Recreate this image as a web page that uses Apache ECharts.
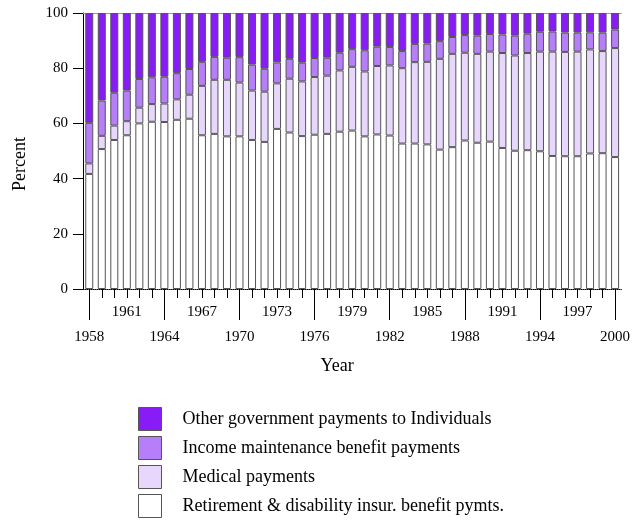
<!DOCTYPE html>
<html>
<head>
<meta charset="utf-8">
<script src="https://cdn.jsdelivr.net/npm/echarts@6/dist/echarts.min.js"></script>
<style>
html,body{margin:0;padding:0;background:#fff;}
#chart{width:633px;height:521px;}
</style>
</head>
<body>
<div id="chart"></div>
<script>
const years = ['1958','1959','1960','1961','1962','1963','1964','1965','1966','1967','1968','1969','1970','1971','1972','1973','1974','1975','1976','1977','1978','1979','1980','1981','1982','1983','1984','1985','1986','1987','1988','1989','1990','1991','1992','1993','1994','1995','1996','1997','1998','1999','2000'];

const retirement = [41.7,50.7,54.0,55.7,60.0,60.6,60.5,61.3,61.7,55.7,56.2,55.3,55.3,54.0,53.3,58.0,56.7,55.4,55.9,56.2,57.0,57.4,55.3,56.0,55.6,52.7,52.7,52.4,50.5,51.4,53.8,53.0,53.4,51.1,50.1,50.3,49.9,48.2,48.1,48.1,49.1,49.2,47.8];
const medical = [3.8,4.8,5.2,5.1,5.7,6.4,6.7,7.4,8.7,17.9,19.6,20.5,19.5,17.9,18.2,16.5,19.5,19.8,20.9,21.1,22.2,23.1,23.5,24.8,25.4,27.3,29.5,29.9,32.9,33.8,31.8,32.2,32.6,34.4,34.5,35.2,36.1,37.8,37.8,37.9,37.7,37.0,39.5];
const income = [14.7,12.8,11.9,11.1,10.4,9.7,9.7,9.5,9.3,8.7,8.3,8.0,9.2,9.4,8.3,7.6,7.2,6.8,6.9,6.5,6.4,6.4,7.7,7.0,6.7,6.2,6.6,6.6,6.4,6.1,6.4,6.6,6.4,6.7,7.2,7.0,7.2,7.3,7.0,6.9,6.2,6.7,6.7];
const other = [39.8,31.7,28.9,28.1,23.9,23.3,23.1,21.8,20.3,17.7,15.9,16.2,16.0,18.7,20.2,17.9,16.6,18.0,16.3,16.2,14.4,13.1,13.5,12.2,12.3,13.8,11.2,11.1,10.2,8.7,8.0,8.2,7.6,7.8,8.2,7.5,6.8,6.7,7.1,7.1,7.0,7.1,6.0];

const yTicks = [0,20,40,60,80,100];
const seriesNames = ['Retirement & disability insur. benefit pymts.','Medical payments','Income maintenance benefit payments','Other government payments to Individuals'];
const seriesColors = ['#ffffff','#e7d7fc','#b77ef9','#881cf7'];

const FONT = 'Liberation Serif';
const chart = echarts.init(document.getElementById('chart'), null, {renderer:'canvas'});

const values = [retirement, medical, income, other];
const series = values.map((v,i)=>({
  name: seriesNames[i],
  type: 'bar',
  stack: 'total',
  xAxisIndex: 0,
  yAxisIndex: 0,
  barWidth: 8,
  data: v,
  itemStyle: {color: seriesColors[i], borderColor: '#555', borderWidth: 1},
  emphasis: {disabled: true},
  animation: false
}));

chart.setOption({
  animation: false,
  backgroundColor: '#fff',
  grid: {left: 83, right: 4, top: 13, bottom: 232, containLabel: false},
  legend: {
    orient: 'vertical',
    left: 138,
    top: 407,
    height: 114,
    padding: 0,
    itemWidth: 23,
    itemHeight: 23,
    itemGap: 5,
    selectedMode: false,
    data: [seriesNames[3], seriesNames[2], seriesNames[1], seriesNames[0]],
    icon: 'rect',
    itemStyle: {borderColor: '#555', borderWidth: 1},
    textStyle: {fontFamily: FONT, fontSize: 18, color: '#000', padding: [0,0,0,16]}
  },
  xAxis: [
    {
      type: 'category', data: years, position: 'bottom', gridIndex: 0,
      axisLine: {show: true, lineStyle: {color: '#000', type: 'dotted', width: 1}},
      axisTick: {show: true, alignWithLabel: true, interval: 0, length: 9, lineStyle: {color: '#000'}},
      axisLabel: {show: true, interval: (i)=> i % 6 === 3, margin: 16, fontFamily: FONT, fontSize: 15, color: '#000'},
      name: 'Year', nameLocation: 'middle', nameGap: 68,
      nameTextStyle: {fontFamily: FONT, fontSize: 18, color: '#000', padding: [0,30,0,0]}
    },
    {
      type: 'category', data: years, position: 'bottom', gridIndex: 0, offset: 0,
      axisLine: {show: false},
      axisTick: {show: true, alignWithLabel: true, interval: (i)=> i % 6 === 0, length: 31, lineStyle: {color: '#000'}},
      axisLabel: {show: true, interval: (i)=> i % 6 === 0, margin: 41, fontFamily: FONT, fontSize: 15, color: '#000'}
    },
    {
      type: 'category', data: years, position: 'top', gridIndex: 0, offset: 0,
      axisLine: {show: true, lineStyle: {color: '#999', width: 1}},
      axisTick: {show: false},
      axisLabel: {show: false}
    }
  ],
  yAxis: {
    type: 'value', min: 0, max: 100, interval: 20,
    axisLine: {show: true, lineStyle: {color: '#000'}},
    axisTick: {show: true, length: 10, lineStyle: {color: '#000'}},
    axisLabel: {margin: 15, fontFamily: FONT, fontSize: 15, color: '#000', customValues: yTicks},
    splitLine: {show: false},
    name: 'Percent', nameLocation: 'middle', nameGap: 54, nameRotate: 90,
    nameTextStyle: {fontFamily: FONT, fontSize: 18, color: '#000', padding: [0,26,0,0]}
  },
  series: series
});
</script>
</body>
</html>
